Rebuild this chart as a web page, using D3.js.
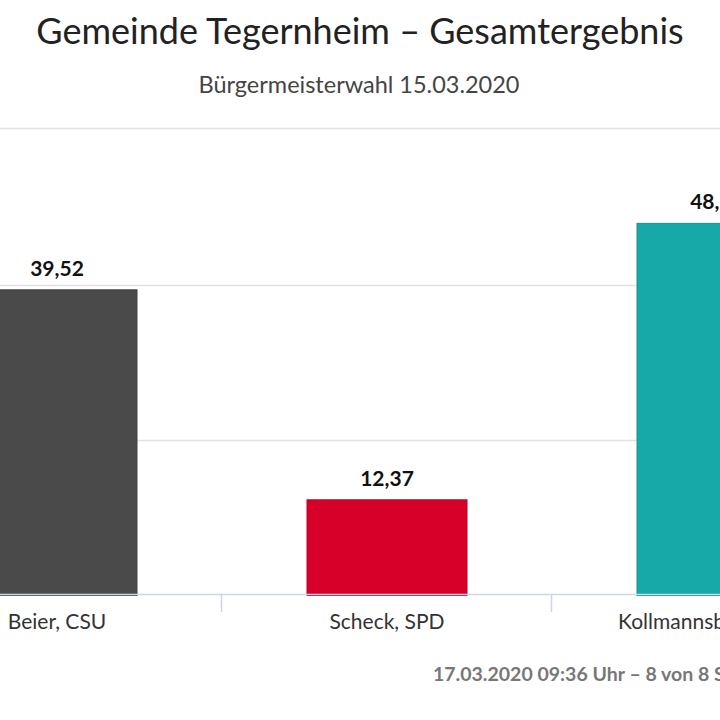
<!DOCTYPE html>
<html>
<head>
<meta charset="utf-8">
<script src="https://cdn.jsdelivr.net/npm/d3@7"></script>
<style>
  html, body { margin: 0; padding: 0; background: #fff; }
  svg text { font-family: Lato, "Open Sans", sans-serif; }
</style>
</head>
<body>
<div id="chart"></div>
<script>
// data
const candidates = ['Beier, CSU', 'Scheck, SPD', 'Kollmannsberger, FW'];
const shares = [39.52, 12.37, 48.11];
const barColors = ['#4a4a4a', '#d60028', '#17a9a8'];
const gridTicks = [20, 40];

const width = 720;
const height = 720;

const svg = d3.select('#chart')
    .append('svg')
    .attr('width', width)
    .attr('height', height);

// titles
svg.append('text')
    .attr('x', 360).attr('y', 44)
    .attr('text-anchor', 'middle')
    .attr('font-size', 36)
    .attr('fill', '#222')
    .text('Gemeinde Tegernheim – Gesamtergebnis');

svg.append('text')
    .attr('x', 359).attr('y', 93)
    .attr('text-anchor', 'middle')
    .attr('font-size', 23.5)
    .attr('fill', '#444')
    .text('Bürgermeisterwahl 15.03.2020');

// scales (plot is wider than the visible crop)
const x = d3.scaleBand()
    .domain(candidates)
    .range([-108, 882]);

const y = d3.scaleLinear()
    .domain([0, 60])
    .range([595.5, 131.4]);

const barWidth = 160;

// top rule of the plot area
svg.append('line')
    .attr('x1', 0).attr('x2', width)
    .attr('y1', 128.5).attr('y2', 128.5)
    .attr('stroke', '#e2e2e2')
    .attr('stroke-width', 1.5);

// gridlines
svg.append('g')
    .selectAll('line')
    .data(gridTicks)
    .join('line')
    .attr('x1', 0).attr('x2', width)
    .attr('y1', d => Math.round(y(d)) - 0.5)
    .attr('y2', d => Math.round(y(d)) - 0.5)
    .attr('stroke', '#e2e2e2')
    .attr('stroke-width', 1.5);

// bars
svg.append('g')
    .selectAll('rect')
    .data(shares)
    .join('rect')
    .attr('x', (d, i) => x(candidates[i]) + x.bandwidth() / 2 - barWidth / 2)
    .attr('y', d => y(d))
    .attr('width', barWidth)
    .attr('height', d => y(0) - y(d))
    .attr('fill', (d, i) => barColors[i])
    .attr('stroke', (d, i) => d3.color(barColors[i]).darker(0.4))
    .attr('stroke-width', 1);

// value labels
const fmt = v => d3.format('.2f')(v).replace('.', ',');
svg.append('g')
    .selectAll('text')
    .data(shares)
    .join('text')
    .attr('x', (d, i) => x(candidates[i]) + x.bandwidth() / 2)
    .attr('y', d => y(d) - 14)
    .attr('text-anchor', 'middle')
    .attr('font-size', 21)
    .attr('font-weight', 'bold')
    .attr('fill', '#111')
    .text(d => fmt(d));

// x axis
const xAxis = d3.axisBottom(x).tickSize(0).tickPadding(0);
const gx = svg.append('g')
    .attr('transform', 'translate(0, 594)')
    .call(xAxis);
gx.select('.domain').remove();
gx.selectAll('.tick text')
    .attr('y', 35)
    .attr('dy', 0)
    .attr('font-size', 21)
    .attr('fill', '#333')
    .attr('font-family', 'Lato, sans-serif');

gx.append('line')
    .attr('x1', 0).attr('x2', width)
    .attr('y1', 0.5).attr('y2', 0.5)
    .attr('stroke', '#ccd6eb')
    .attr('stroke-width', 1.5);

// category boundary ticks
gx.selectAll('.sep')
    .data(candidates.slice(1))
    .join('line')
    .attr('class', 'sep')
    .attr('x1', d => x(d) - 0.5).attr('x2', d => x(d) - 0.5)
    .attr('y1', 0).attr('y2', 18)
    .attr('stroke', '#ccd6eb')
    .attr('stroke-width', 1.5);

// footer
svg.append('text')
    .attr('x', 433).attr('y', 681)
    .attr('font-size', 19.5)
    .attr('font-weight', 'bold')
    .attr('fill', '#777')
    .text('17.03.2020 09:36 Uhr – 8 von 8 Stimmbezirken');
</script>
</body>
</html>
